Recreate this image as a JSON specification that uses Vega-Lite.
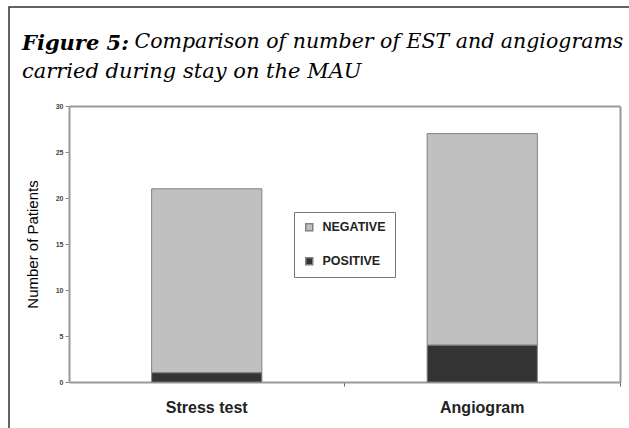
{
  "$schema": "https://vega.github.io/schema/vega-lite/v6.json",
  "width": 630,
  "height": 430,
  "autosize": {"type": "none"},
  "padding": {"left": 9, "top": 7, "right": -10, "bottom": -9},
  "background": "white",
  "title": {
    "text": "Figure 5:",
    "subtitle": "carried during stay on the MAU",
    "anchor": "start",
    "frame": "group",
    "dx": 13,
    "font": "DejaVu Serif",
    "fontSize": 21,
    "fontStyle": "italic",
    "fontWeight": "bold",
    "color": "#000000",
    "subtitleFont": "DejaVu Serif",
    "subtitleFontSize": 21,
    "subtitleFontStyle": "italic",
    "subtitleFontWeight": "normal",
    "subtitleColor": "#000000",
    "subtitlePadding": 7,
    "offset": -75
  },
  "data": {
    "values": [
      {"test": "Stress test", "result": "NEGATIVE", "count": 20},
      {"test": "Stress test", "result": "POSITIVE", "count": 1},
      {"test": "Angiogram", "result": "NEGATIVE", "count": 23},
      {"test": "Angiogram", "result": "POSITIVE", "count": 4}
    ]
  },
  "layer": [
    {
      "mark": {"type": "bar", "stroke": "#808080", "strokeWidth": 1},
      "encoding": {
        "x": {
          "field": "test",
          "type": "nominal",
          "sort": ["Stress test", "Angiogram"],
          "scale": {"range": [60, 611], "paddingInner": 0.6, "paddingOuter": 0.3},
          "axis": {
            "orient": "bottom",
            "offset": -55,
            "title": "Comparison of number of EST and angiograms",
            "titleX": 125,
            "titleY": -335,
            "titleAlign": "left",
            "titleBaseline": "alphabetic",
            "titleAngle": 0,
            "titleFont": "DejaVu Serif",
            "titleFontSize": 20.5,
            "titleFontStyle": "italic",
            "titleFontWeight": "normal",
            "titleColor": "#000000",
            "labelFont": "Liberation Sans",
            "labelFontSize": 16,
            "labelFontWeight": "bold",
            "labelColor": "#222222",
            "labelPadding": 13,
            "labelAngle": 0,
            "tickColor": "#666666",
            "tickSize": 4,
            "bandPosition": 1.75,
            "domainColor": "#999999",
            "domainWidth": 2
          }
        },
        "y": {
          "field": "count",
          "type": "quantitative",
          "stack": "zero",
          "scale": {"domain": [0, 30], "range": [375, 99]},
          "axis": {
            "orient": "left",
            "offset": -60,
            "title": "Number of Patients",
            "titleFont": "Liberation Sans",
            "titleFontSize": 15,
            "titleFontWeight": "normal",
            "titleColor": "#000000",
            "titlePadding": 15,
            "labelFont": "Liberation Sans",
            "labelFontSize": 7,
            "labelFontWeight": "bold",
            "labelColor": "#444444",
            "labelPadding": 2,
            "tickColor": "#888888",
            "tickSize": 4,
            "domainColor": "#999999",
            "domainWidth": 2,
            "grid": false,
            "values": [0, 5, 10, 15, 20, 25, 30]
          }
        },
        "color": {
          "field": "result",
          "type": "nominal",
          "scale": {"domain": ["NEGATIVE", "POSITIVE"], "range": ["#c0c0c0", "#333333"]},
          "legend": {
            "title": null,
            "orient": "none",
            "legendX": 285,
            "legendY": 205,
            "strokeColor": "#777777",
            "fillColor": "white",
            "padding": 9,
            "labelFont": "Liberation Sans",
            "labelFontSize": 12.5,
            "labelFontWeight": "bold",
            "labelColor": "#222222",
            "labelOffset": 7,
            "symbolType": "square",
            "symbolSize": 49,
            "rowPadding": 20
          }
        },
        "order": {"field": "result", "sort": "descending"}
      }
    },
    {
      "mark": {"type": "tick", "opacity": 0},
      "encoding": {
        "x": {
          "field": "test",
          "type": "nominal",
          "sort": ["Stress test", "Angiogram"],
          "axis": {
            "orient": "top",
            "offset": -99,
            "title": null,
            "labels": false,
            "ticks": false,
            "domainColor": "#999999",
            "domainWidth": 2
          }
        },
        "y": {
          "field": "count",
          "type": "quantitative",
          "axis": {
            "orient": "right",
            "offset": -19,
            "title": null,
            "labels": false,
            "ticks": false,
            "grid": false,
            "domainColor": "#999999",
            "domainWidth": 2
          }
        }
      }
    }
  ],
  "resolve": {"axis": {"x": "independent", "y": "independent"}},
  "config": {
    "view": {"stroke": "#333333", "strokeWidth": 1.5}
  }
}
